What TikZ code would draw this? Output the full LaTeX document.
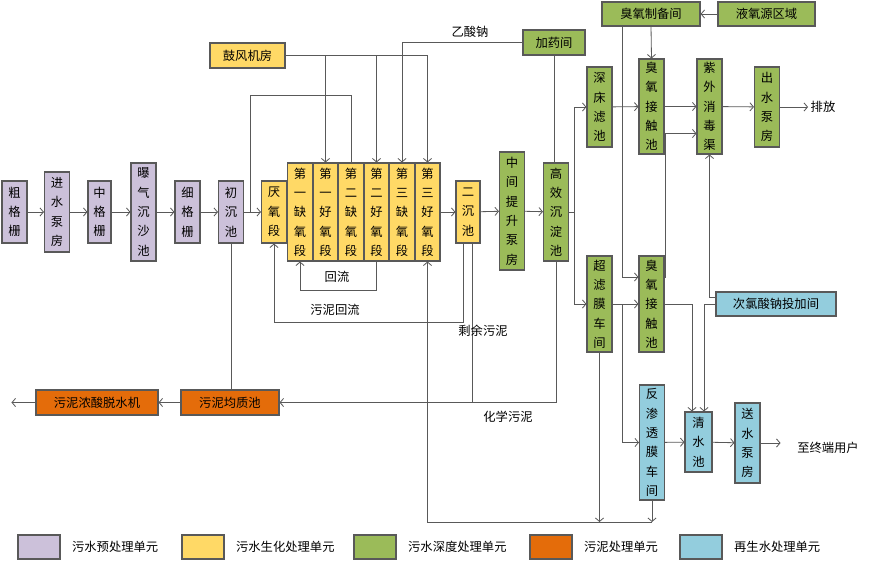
\documentclass[tikz,border=0pt]{standalone}
\usepackage{fontspec}
\setmainfont{Noto Sans CJK SC}
\usetikzlibrary{arrows.meta,calc}
\definecolor{prePurple}{RGB}{204,193,218}
\definecolor{bioYellow}{RGB}{255,217,102}
\definecolor{deepGreen}{RGB}{155,187,89}
\definecolor{sludgeOrange}{RGB}{228,108,10}
\definecolor{reuseBlue}{RGB}{147,205,221}
\definecolor{lineGray}{RGB}{89,89,89}
\begin{document}
\begin{tikzpicture}
    [
    x=0.03cm, y=-0.03cm,
    font=\fontsize{10.5}{16.5}\selectfont,
    unit/.style={draw=lineGray,line width=0.9pt,inner sep=0pt,align=center},
    vbox/.style={unit,minimum width=0.75cm},
    pre/.style={vbox,fill=prePurple},
    bio/.style={vbox,fill=bioYellow},
    deep/.style={vbox,fill=deepGreen},
    reuse/.style={vbox,fill=reuseBlue},
    pipe/.style={draw=lineGray,line width=0.7pt},
    arr/.style={pipe,-{Straight Barb[length=3pt,width=7pt]}}
    ]
    \useasboundingbox (0,0) rectangle (877,571);
    % pretreatment
    \node (cgs) at (14.5,212) [pre,minimum height=1.86cm] {粗\\格\\栅};
    \node (jsbf) at (57,212) [pre,minimum height=2.4cm] {进\\水\\泵\\房};
    \node (zgs) at (99.5,212) [pre,minimum width=0.69cm,minimum height=1.86cm] {中\\格\\栅};
    \node (pqcs) at (143.5,212) [pre,minimum height=2.94cm] {曝\\气\\沉\\沙\\池};
    \node (xgs) at (187.5,212) [pre,minimum height=1.86cm] {细\\格\\栅};
    \node (ccc) at (231,212) [pre,minimum height=1.86cm] {初\\沉\\池};
    % biological
    \node (yy) at (274,212) [bio,minimum height=1.86cm] {厌\\氧\\段};
    \node (s1) at (300,212) [bio,minimum height=2.94cm] {第\\一\\缺\\氧\\段};
    \node (s2) at (325.5,212) [bio,minimum height=2.94cm] {第\\一\\好\\氧\\段};
    \node (s3) at (351,212) [bio,minimum height=2.94cm] {第\\二\\缺\\氧\\段};
    \node (s4) at (376.5,212) [bio,minimum height=2.94cm] {第\\二\\好\\氧\\段};
    \node (s5) at (402,212) [bio,minimum height=2.94cm] {第\\三\\缺\\氧\\段};
    \node (s6) at (427.5,212) [bio,minimum height=2.94cm] {第\\三\\好\\氧\\段};
    \node (ecc) at (468,212) [bio,minimum width=0.72cm,minimum height=1.86cm] {二\\沉\\池};
    \node (gfj) at (247.5,55.5) [unit,fill=bioYellow,minimum width=2.25cm,minimum height=0.75cm] {鼓风机房};
    % advanced treatment
    \node (zjts) at (512,211) [deep,minimum height=3.54cm] {中\\间\\提\\升\\泵\\房};
    \node (gxcd) at (556,212) [deep,minimum height=2.94cm] {高\\效\\沉\\淀\\池};
    \node (jyj) at (554,42.5) [unit,fill=deepGreen,minimum width=1.86cm,minimum height=0.75cm] {加药间};
    \node (scl) at (599.5,107) [deep,minimum height=2.4cm] {深\\床\\滤\\池};
    \node (cy1) at (651.5,106.5) [deep,minimum height=2.85cm] {臭\\氧\\接\\触\\池};
    \node (zw) at (709.5,106.5) [deep,minimum height=2.85cm] {紫\\外\\消\\毒\\渠};
    \node (cs) at (767,107) [deep,minimum height=2.4cm] {出\\水\\泵\\房};
    \node (cl) at (599.5,304) [deep,minimum height=2.88cm] {超\\滤\\膜\\车\\间};
    \node (cy2) at (651.5,304) [deep,minimum height=2.88cm] {臭\\氧\\接\\触\\池};
    \node (cyzb) at (651,14) [unit,fill=deepGreen,minimum width=2.94cm,minimum height=0.72cm] {臭氧制备间};
    \node (yyq) at (766.5,14) [unit,fill=deepGreen,minimum width=2.91cm,minimum height=0.72cm] {液氧源区域};
    % reuse
    \node (clq) at (776,304) [unit,fill=reuseBlue,minimum width=3.6cm,minimum height=0.72cm] {次氯酸钠投加间};
    \node (fst) at (652,442.5) [reuse,minimum height=3.45cm] {反\\渗\\透\\膜\\车\\间};
    \node (qs) at (698.5,442) [reuse,minimum width=0.81cm,minimum height=1.8cm] {清\\水\\池};
    \node (ss) at (747.5,443) [reuse,minimum height=2.4cm] {送\\水\\泵\\房};
    % sludge
    \node (wnts) at (97,402.5) [unit,fill=sludgeOrange,minimum width=3.66cm,minimum height=0.75cm] {污泥浓酸脱水机};
    \node (wnjz) at (230,402.5) [unit,fill=sludgeOrange,minimum width=2.94cm,minimum height=0.75cm] {污泥均质池};

    % main line
    \draw [arr] (cgs) to (jsbf);
    \draw [arr] (jsbf) to (zgs);
    \draw [arr] (zgs) to (pqcs);
    \draw [arr] (pqcs) to (xgs);
    \draw [arr] (xgs) to (ccc);
    \draw [arr] (ccc) to (yy);
    \draw [arr] (s6) to (ecc);
    \draw [arr] (ecc) to (zjts);
    \draw [arr] (zjts) to (gxcd);
    \coordinate (byp) at (250,212);
    \draw [pipe] (byp) -- (250,95) -| (s3.north);
    % air and dosing
    \draw [arr] (gfj.east) -| (s6.north);
    \draw [arr] (gfj.east -| s2.north) -- (s2.north);
    \draw [arr] (gfj.east -| s4.north) -- (s4.north);
    \draw [arr] (jyj.west) -| (s5.north);
    \node (ysn) at (470,32) {乙酸钠};
    \draw [pipe] (jyj.south) -- (jyj.south |- gxcd.north);
    % returns
    \draw [arr] (s4.south) -- ++(0,29) -| (s1.south);
    \node (hl) at (337,277) {回流};
    \coordinate (ecl) at ($(ecc.south)+(-5,0)$);
    \coordinate (ecr) at ($(ecc.south)+(4,0)$);
    \draw [arr] (ecl) -- ++(0,79) -| (yy.south);
    \node (wnhl) at (335,310) {污泥回流};
    \draw [pipe] (ecr) -- (ecr |- wnjz.east);
    \node (syw) at (483,331) {剩\\余\\污\\泥};
    \draw [arr] (gxcd.south) |- (wnjz.east);
    \node (hxwn) at (508,417) {化学污泥};
    \draw [pipe] (ccc.south) -- (ccc.south |- wnjz.north);
    \draw [arr] (wnjz) to (wnts);
    \draw [arr] (wnts.west) -- ++(-24,0);
    \coordinate (retl) at (427.5,522);
    \draw [arr] (fst.south |- retl) -- (retl) -- (s6.south);
    \draw [arr] (cl.south) -- (cl.south |- retl);
    \draw [arr] (fst.south) -- (fst.south |- retl);
    % advanced line
    \coordinate (gsp) at (574,212);
    \draw [pipe] (gxcd.east) -- (gsp);
    \draw [arr] (gsp) |- (scl.west);
    \draw [arr] (gsp) |- (cl.west);
    \draw [arr] (scl) to (cy1);
    \draw [arr] (cy1) to (zw);
    \draw [arr] (zw) to (cs);
    \draw [arr] (cs.east) -- ++(28,0);
    \node (pf) at (823,107) {排放};
    \draw [arr] (yyq) to (cyzb);
    \draw [arr] (cyzb.south) -- (cy1.north);
    \coordinate (oz2) at ($(cyzb.south)+(-29,0)$);
    \draw [arr] (oz2) |- ($(cy2.west)+(0,-27)$);
    \draw [arr] ($(cy2.east)+(0,-27)$) -| ($(zw.west)+(-31,27)$) -- ($(zw.west)+(0,27)$);
    \draw [arr] (cl) to (cy2);
    \coordinate (clb) at (622,304);
    \draw [arr] (clb) |- (fst.west);
    \draw [arr] (cy2.east) -| ($(qs.north)+(-6.5,0)$);
    \draw [arr] ($(clq.west)+(0,-7)$) -| (zw.south);
    \draw [arr] (clq.west) -| ($(qs.north)+(5.5,0)$);
    \draw [arr] (fst) to (qs);
    \draw [arr] (qs) to (ss);
    \draw [arr] (ss.east) -- ++(20,0);
    \node (zzd) at (828,448) {至终端用户};
    % legend
    \node (lg1) at (39,547) [unit,fill=prePurple,minimum width=1.26cm,minimum height=0.72cm] {};
    \node (lt1) at (68,547) [anchor=west] {污水预处理单元};
    \node (lg2) at (203,547) [unit,fill=bioYellow,minimum width=1.26cm,minimum height=0.72cm] {};
    \node (lt2) at (232,547) [anchor=west] {污水生化处理单元};
    \node (lg3) at (375,547) [unit,fill=deepGreen,minimum width=1.26cm,minimum height=0.72cm] {};
    \node (lt3) at (404,547) [anchor=west] {污水深度处理单元};
    \node (lg4) at (551,547) [unit,fill=sludgeOrange,minimum width=1.26cm,minimum height=0.72cm] {};
    \node (lt4) at (580,547) [anchor=west] {污泥处理单元};
    \node (lg5) at (701,547) [unit,fill=reuseBlue,minimum width=1.26cm,minimum height=0.72cm] {};
    \node (lt5) at (730,547) [anchor=west] {再生水处理单元};
  \end{tikzpicture}
\end{document}
